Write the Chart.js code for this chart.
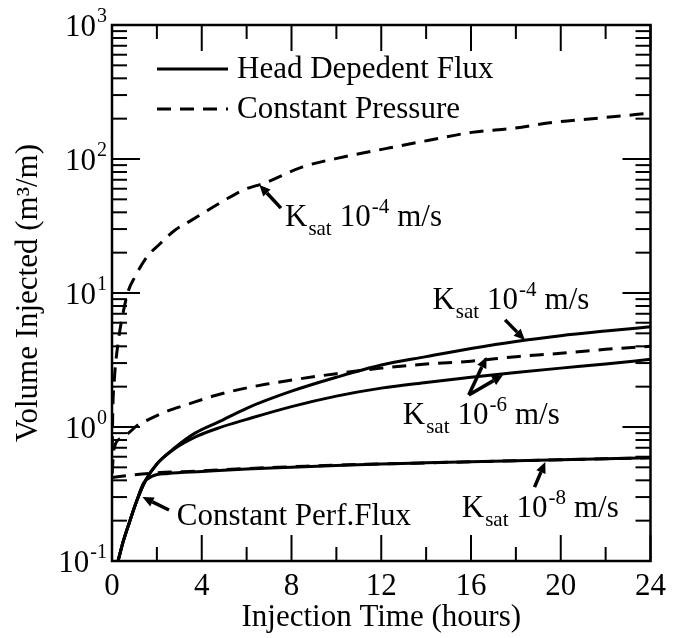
<!DOCTYPE html>
<html><head><meta charset="utf-8">
<script src="https://cdn.jsdelivr.net/npm/chart.js@4.4.1/dist/chart.umd.min.js"></script>
<style>html,body{margin:0;padding:0;background:#fff}#wrap{width:673px;height:638px}</style>
</head><body><div id="wrap"><canvas id="c" width="673" height="638"></canvas></div>
<script>
const FONT = '"Liberation Serif", "Times New Roman", serif';

// axis ticks
const xTickValues = [0, 4, 8, 12, 16, 20, 24];
const yTickValues = [0.1, 1, 10, 100, 1000];
const yTickExponents = ['-1', '0', '1', '2', '3'];

// Head dependent flux (solid) — includes the constant perforation flux start
const hdf4Time = [0.27, 0.5, 0.8, 1.1, 1.5, 2.0, 2.8, 3.7, 4.8, 6, 8, 10, 12, 14, 16, 18, 20, 22, 24];
const hdf4Vol  = [0.1, 0.14, 0.2, 0.28, 0.4, 0.53, 0.70, 0.9, 1.1, 1.38, 1.85, 2.35, 2.9, 3.35, 3.85, 4.35, 4.8, 5.2, 5.6];
const hdf6Time = [0.27, 0.5, 0.8, 1.1, 1.5, 2.0, 2.8, 3.7, 4.8, 6, 8, 10, 12, 14, 16, 18, 20, 22, 24];
const hdf6Vol  = [0.1, 0.14, 0.2, 0.28, 0.4, 0.53, 0.69, 0.84, 0.99, 1.14, 1.42, 1.7, 1.95, 2.15, 2.35, 2.55, 2.75, 2.95, 3.2];
const hdf8Time = [0.27, 0.5, 0.8, 1.1, 1.4, 1.8, 2.5, 4, 6, 8, 10, 12, 14, 16, 18, 20, 22, 24];
const hdf8Vol  = [0.1, 0.14, 0.2, 0.28, 0.38, 0.43, 0.45, 0.465, 0.485, 0.5, 0.515, 0.53, 0.54, 0.55, 0.56, 0.57, 0.58, 0.59];

// Constant pressure (dashed)
const cp4Time = [0, 0.03, 0.1, 0.25, 0.45, 0.72, 1.0, 1.57, 2.14, 2.8, 3.55, 4.31, 5.07, 5.92, 6.77, 8.47, 10.36, 12.25, 14.13, 16.03, 17.92, 19.81, 21.7, 24];
const cp4Vol  = [0.45, 1.2, 2.2, 4.0, 6.5, 10.3, 13, 18.7, 23.3, 29.4, 35, 41.8, 49.8, 59.3, 65.9, 87, 104, 120, 138, 158, 170, 189, 202, 220];
const cp6Time = [0, 0.1, 0.4, 0.8, 1.1, 1.6, 2.4, 3.4, 4.6, 5.7, 6.9, 8.3, 10, 12, 14, 16, 18, 20, 22, 24];
const cp6Vol  = [0.45, 0.7, 0.82, 0.92, 1.02, 1.13, 1.3, 1.48, 1.72, 1.91, 2.09, 2.28, 2.5, 2.75, 2.95, 3.1, 3.35, 3.55, 3.8, 4.0];
const cp8Time = [0, 1, 2, 4, 6, 8, 10, 12, 14, 16, 18, 20, 22, 24];
const cp8Vol  = [0.42, 0.44, 0.455, 0.47, 0.49, 0.505, 0.52, 0.53, 0.54, 0.55, 0.56, 0.57, 0.58, 0.59];

// legend
const legendLabels = ['Head Depedent Flux', 'Constant Pressure'];

// annotations
const kLabels = [
  { exp: '-4', t: 7.71, v: 31.6, arrows: [[7.53, 43, 6.57, 64]] },
  { exp: '-4', t: 14.28, v: 7.6, arrows: [[17.52, 6.3, 18.4, 4.46]] },
  { exp: '-6', t: 12.96, v: 1.05, arrows: [[15.9, 1.73, 16.69, 3.33], [15.9, 1.73, 17.43, 2.44]] },
  { exp: '-8', t: 15.59, v: 0.213, arrows: [[18.83, 0.356, 19.31, 0.548]] }
];
const perfLabel = { text: 'Constant Perf.Flux', t: 2.89, v: 0.186, arrows: [[2.54, 0.24, 1.36, 0.30]] };

function pts(ts, vs) { return ts.map((t, i) => ({ x: t, y: vs[i] })); }
const DASH = [14, 9];
function ds(label, ts, vs, dashed) {
  return { label, data: pts(ts, vs), borderColor: '#000', backgroundColor: '#000', borderWidth: 3,
    borderDash: dashed ? DASH : [], pointRadius: 0, cubicInterpolationMode: 'monotone', fill: false };
}

function arrow(ctx, x1, y1, x2, y2) {
  const ang = Math.atan2(y2 - y1, x2 - x1);
  const hl = 11, hw = 5;
  const bx = x2 - hl * Math.cos(ang), by = y2 - hl * Math.sin(ang);
  ctx.beginPath(); ctx.moveTo(x1, y1); ctx.lineTo(bx, by); ctx.lineWidth = 3.5; ctx.stroke();
  ctx.beginPath();
  ctx.moveTo(x2, y2);
  ctx.lineTo(bx + hw * Math.sin(ang), by - hw * Math.cos(ang));
  ctx.lineTo(bx - hw * Math.sin(ang), by + hw * Math.cos(ang));
  ctx.closePath(); ctx.fill();
}

function kText(ctx, x, y, exp) {
  let cx = x;
  ctx.textBaseline = 'alphabetic'; ctx.textAlign = 'left';
  ctx.font = '31px ' + FONT; ctx.fillText('K', cx, y); cx += ctx.measureText('K').width;
  ctx.font = '21px ' + FONT; ctx.fillText('sat', cx + 1, y + 9); cx += ctx.measureText('sat').width + 9;
  ctx.font = '31px ' + FONT; ctx.fillText('10', cx, y); cx += ctx.measureText('10').width + 1;
  ctx.font = '21px ' + FONT; ctx.fillText(exp, cx, y - 13); cx += ctx.measureText(exp).width + 8;
  ctx.font = '31px ' + FONT; ctx.fillText('m/s', cx, y);
}

const decor = {
  id: 'decor',
  afterDatasetsDraw(chart) {
    const { ctx, chartArea: a, scales: { x, y } } = chart;
    ctx.save();
    ctx.strokeStyle = '#000'; ctx.fillStyle = '#000';
    ctx.lineWidth = 2.5;
    ctx.strokeRect(a.left, a.top, a.right - a.left, a.bottom - a.top);
    ctx.lineWidth = 2;
    const ln = (x1, y1, x2, y2) => { ctx.beginPath(); ctx.moveTo(x1, y1); ctx.lineTo(x2, y2); ctx.stroke(); };
    for (let t = 0; t <= 24; t += 2) {
      const px = x.getPixelForValue(t);
      const L = (t % 4 === 0) ? 26 : 14;
      ln(px, a.bottom, px, a.bottom - L); ln(px, a.top, px, a.top + L);
    }
    for (let e = -1; e <= 2; e++) {
      for (let m = 1; m <= 9; m++) {
        const py = y.getPixelForValue(m * Math.pow(10, e));
        const L = m === 1 ? 28 : 15;
        ln(a.left, py, a.left + L, py); ln(a.right, py, a.right - L, py);
      }
    }
    // y tick labels: 10 with superscript exponent
    yTickValues.forEach((v, i) => {
      const py = y.getPixelForValue(v);
      const ex = yTickExponents[i];
      ctx.textBaseline = 'alphabetic'; ctx.textAlign = 'right';
      ctx.font = '20px ' + FONT;
      const ew = ctx.measureText(ex).width;
      const right = a.left - 5;
      ctx.fillText(ex, right, py - 3);
      ctx.font = '31px ' + FONT;
      ctx.fillText('10', right - ew - 1, py + 11);
    });
    // legend
    const lx = a.left + 45, ly1 = a.top + 44, ly2 = a.top + 84;
    ctx.lineWidth = 3;
    ln(lx, ly1, lx + 71, ly1);
    ctx.setLineDash(DASH); ln(lx, ly2, lx + 71, ly2); ctx.setLineDash([]);
    ctx.font = '31px ' + FONT; ctx.textBaseline = 'middle'; ctx.textAlign = 'left';
    ctx.fillText(legendLabels[0], lx + 80, ly1 + 1);
    ctx.fillText(legendLabels[1], lx + 80, ly2 + 1);
    // annotations
    kLabels.forEach(k => {
      kText(ctx, x.getPixelForValue(k.t), y.getPixelForValue(k.v), k.exp);
      k.arrows.forEach(r => arrow(ctx, x.getPixelForValue(r[0]), y.getPixelForValue(r[1]), x.getPixelForValue(r[2]), y.getPixelForValue(r[3])));
    });
    ctx.font = '31px ' + FONT; ctx.textBaseline = 'alphabetic';
    ctx.fillText(perfLabel.text, x.getPixelForValue(perfLabel.t), y.getPixelForValue(perfLabel.v));
    perfLabel.arrows.forEach(r => arrow(ctx, x.getPixelForValue(r[0]), y.getPixelForValue(r[1]), x.getPixelForValue(r[2]), y.getPixelForValue(r[3])));
    ctx.restore();
  }
};

new Chart(document.getElementById('c'), {
  type: 'line',
  data: { datasets: [
    ds('Head Dependent Flux 1e-4', hdf4Time, hdf4Vol, false),
    ds('Head Dependent Flux 1e-6', hdf6Time, hdf6Vol, false),
    ds('Head Dependent Flux 1e-8', hdf8Time, hdf8Vol, false),
    ds('Constant Pressure 1e-4', cp4Time, cp4Vol, true),
    ds('Constant Pressure 1e-6', cp6Time, cp6Vol, true),
    ds('Constant Pressure 1e-8', cp8Time, cp8Vol, true)
  ]},
  options: {
    responsive: false, animation: false,
    layout: { padding: { top: 25, right: 13, left: 0, bottom: 0 } },
    plugins: { legend: { display: false }, tooltip: { enabled: false } },
    scales: {
      x: {
        type: 'linear', min: 0, max: 24,
        afterBuildTicks: s => { s.ticks = xTickValues.map(v => ({ value: v })); },
        afterFit: s => { s.height = 77; },
        grid: { display: false, drawTicks: false }, border: { display: false },
        ticks: { color: '#000', font: { family: FONT, size: 31 }, padding: 7, maxRotation: 0 },
        title: { display: true, text: 'Injection Time (hours)', color: '#000', font: { family: FONT, size: 31 }, padding: { top: 0, bottom: 2 } }
      },
      y: {
        type: 'logarithmic', min: 0.1, max: 1000,
        afterBuildTicks: s => { s.ticks = yTickValues.map(v => ({ value: v })); },
        afterFit: s => { s.width = 112; },
        grid: { display: false, drawTicks: false }, border: { display: false },
        ticks: { display: false },
        title: { display: true, text: 'Volume Injected (m\u00B3/m)', color: '#000', font: { family: FONT, size: 31 }, padding: { top: 10, bottom: 0 } }
      }
    }
  },
  plugins: [decor]
});
</script>
</body></html>
